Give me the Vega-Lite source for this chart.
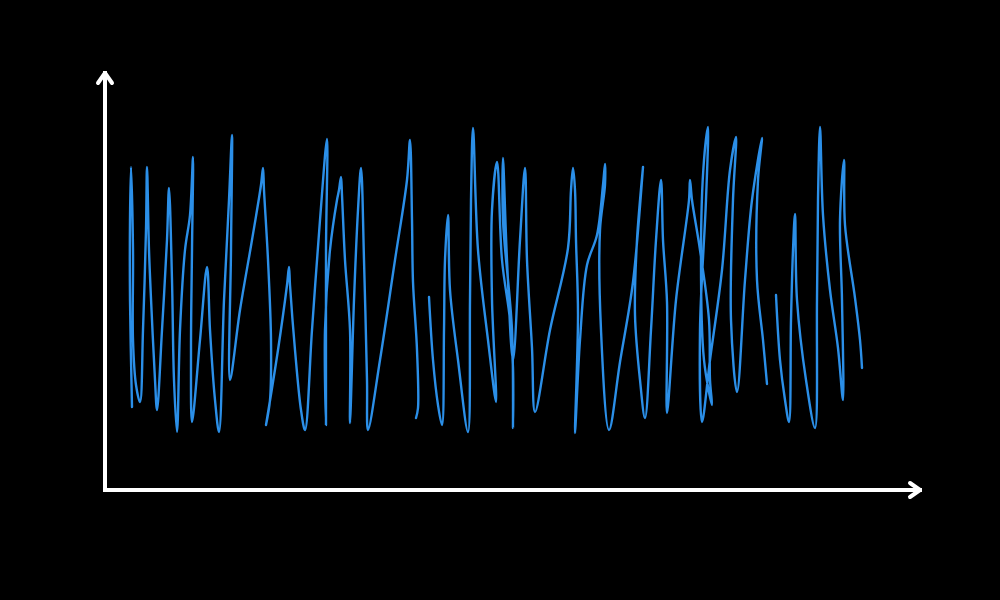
{
  "$schema": "https://vega.github.io/schema/vega-lite/v6.json",
  "width": 815,
  "height": 417,
  "autosize": {"type": "none"},
  "padding": {"left": 105, "top": 73, "right": 80, "bottom": 110},
  "background": "#000000",
  "config": {"view": {"stroke": null}},
  "datasets": {
    "scribble": [
      {"s":1,"i":1,"x":27,"y":83},{"s":1,"i":2,"x":25,"y":190},{"s":1,"i":3,"x":25,"y":270},{"s":1,"i":4,"x":26,"y":323},
      {"s":1,"i":5,"x":28,"y":240},{"s":1,"i":6,"x":28,"y":150},{"s":1,"i":7,"x":31,"y":105},{"s":1,"i":8,"x":35,"y":88},
      {"s":1,"i":9,"x":38,"y":160},{"s":1,"i":10,"x":41,"y":260},{"s":1,"i":11,"x":42,"y":323},{"s":1,"i":12,"x":44,"y":240},
      {"s":1,"i":13,"x":47,"y":170},{"s":1,"i":14,"x":50,"y":110},{"s":1,"i":15,"x":52,"y":80},{"s":1,"i":16,"x":57,"y":160},
      {"s":1,"i":17,"x":62,"y":250},{"s":1,"i":18,"x":64,"y":302},{"s":1,"i":19,"x":67,"y":210},{"s":1,"i":20,"x":69,"y":110},
      {"s":1,"i":21,"x":72,"y":58},{"s":1,"i":22,"x":75,"y":160},{"s":1,"i":23,"x":80,"y":240},{"s":1,"i":24,"x":85,"y":275},
      {"s":1,"i":25,"x":88,"y":333},{"s":1,"i":26,"x":87,"y":240},{"s":1,"i":27,"x":86,"y":140},{"s":1,"i":28,"x":87,"y":68},
      {"s":1,"i":29,"x":95,"y":150},{"s":1,"i":30,"x":102,"y":223},{"s":1,"i":31,"x":105,"y":160},{"s":1,"i":32,"x":110,"y":90},
      {"s":1,"i":33,"x":114,"y":58},{"s":1,"i":34,"x":119,"y":190},{"s":1,"i":35,"x":124,"y":290},{"s":1,"i":36,"x":127,"y":355},
      {"s":1,"i":37,"x":126,"y":240},{"s":1,"i":38,"x":125,"y":110},{"s":1,"i":39,"x":135,"y":180},{"s":1,"i":40,"x":147,"y":250},
      {"s":1,"i":40.5,"x":156,"y":305},
      {"s":1,"i":41,"x":158,"y":322},{"s":1,"i":41.5,"x":159,"y":300},{"s":1,"i":42,"x":163,"y":230},{"s":1,"i":43,"x":166,"y":150},{"s":1,"i":44,"x":165,"y":90},
      {"s":1,"i":45,"x":161,"y":65},{"s":1,"i":46,"x":173,"y":140},{"s":1,"i":46.5,"x":182,"y":205},{"s":1,"i":47,"x":184,"y":223},{"s":1,"i":47.5,"x":185,"y":205},{"s":1,"i":48,"x":190,"y":140},
      {"s":1,"i":49,"x":196,"y":80},{"s":1,"i":50,"x":200,"y":60},{"s":1,"i":51,"x":207,"y":160},{"s":1,"i":52,"x":215,"y":270},
      {"s":1,"i":53,"x":222,"y":351},{"s":1,"i":54,"x":221,"y":240},{"s":1,"i":55,"x":221,"y":65},{"s":1,"i":56,"x":220,"y":160},
      {"s":1,"i":57,"x":225,"y":240},{"s":1,"i":58,"x":232,"y":290},{"s":1,"i":58.5,"x":234,"y":300},{"s":1,"i":59,"x":236,"y":313},{"s":1,"i":59.5,"x":237,"y":295},{"s":1,"i":60,"x":240,"y":230},
      {"s":1,"i":61,"x":245,"y":160},{"s":1,"i":62,"x":245,"y":67},{"s":1,"i":63,"x":249,"y":190},{"s":1,"i":64,"x":253,"y":280},
      {"s":1,"i":65,"x":256,"y":322},{"s":1,"i":66,"x":259,"y":230},{"s":1,"i":67,"x":262,"y":110},{"s":1,"i":68,"x":263,"y":60},
      {"s":1,"i":69,"x":275,"y":130},{"s":1,"i":70,"x":290,"y":230},{"s":1,"i":71,"x":302,"y":310},{"s":1,"i":72,"x":305,"y":350},
      {"s":1,"i":73,"x":307,"y":270},{"s":1,"i":74,"x":308,"y":208},{"s":1,"i":75,"x":312,"y":140},{"s":1,"i":76,"x":313,"y":82},
      {"s":1,"i":77,"x":311,"y":72},
      {"s":2,"i":78,"x":324,"y":193},{"s":2,"i":79,"x":328,"y":130},{"s":2,"i":80,"x":333,"y":85},{"s":2,"i":81,"x":337,"y":65},
      {"s":2,"i":82,"x":339,"y":160},{"s":2,"i":83,"x":340,"y":230},{"s":2,"i":84,"x":343,"y":275},{"s":2,"i":85,"x":345,"y":200},
      {"s":2,"i":86,"x":353,"y":130},{"s":2,"i":87,"x":363,"y":58},{"s":2,"i":88,"x":365,"y":190},{"s":2,"i":89,"x":366,"y":290},
      {"s":2,"i":90,"x":368,"y":362},{"s":2,"i":91,"x":373,"y":240},{"s":2,"i":92,"x":383,"y":150},{"s":2,"i":93,"x":391,"y":88},
      {"s":2,"i":94,"x":387,"y":190},{"s":2,"i":95,"x":387,"y":280},{"s":2,"i":96,"x":392,"y":328},{"s":2,"i":97,"x":397,"y":230},
      {"s":2,"i":98,"x":405,"y":170},{"s":2,"i":99,"x":408,"y":122},{"s":2,"i":100,"x":408,"y":62},{"s":2,"i":101,"x":407,"y":160},
      {"s":2,"i":102,"x":398,"y":270},{"s":2,"i":103,"x":398,"y":332},{"s":2,"i":104,"x":402,"y":230},{"s":2,"i":105,"x":408,"y":130},
      {"s":2,"i":106,"x":415,"y":250},{"s":2,"i":107,"x":420,"y":322},{"s":2,"i":108,"x":422,"y":230},{"s":2,"i":109,"x":427,"y":142},
      {"s":2,"i":110,"x":430,"y":78},{"s":2,"i":111,"x":445,"y":160},{"s":2,"i":112,"x":463,"y":242},{"s":2,"i":112.5,"x":466,"y":300},{"s":2,"i":113,"x":468,"y":322},
      {"s":2,"i":113.5,"x":470,"y":300},{"s":2,"i":114,"x":471,"y":250},{"s":2,"i":115,"x":473,"y":175},{"s":2,"i":116,"x":470,"y":57},{"s":2,"i":117,"x":475,"y":150},
      {"s":2,"i":118,"x":482,"y":225},{"s":2,"i":119,"x":492,"y":255},{"s":2,"i":119.5,"x":498,"y":305},{"s":2,"i":120,"x":500,"y":326},{"s":2,"i":120.5,"x":500,"y":305},{"s":2,"i":121,"x":495,"y":260},
      {"s":2,"i":122,"x":496,"y":160},{"s":2,"i":123,"x":504,"y":60},{"s":2,"i":124,"x":515,"y":128},{"s":2,"i":125,"x":528,"y":208},
      {"s":2,"i":126,"x":538,"y":323},{"s":2,"i":127,"x":532,"y":250},{"s":2,"i":128,"x":530,"y":175},{"s":2,"i":129,"x":535,"y":110},
      {"s":2,"i":130,"x":540,"y":72},{"s":2,"i":131,"x":546,"y":160},{"s":2,"i":132,"x":551,"y":250},{"s":2,"i":133,"x":556,"y":310},
      {"s":2,"i":134,"x":558,"y":250},{"s":2,"i":135,"x":562,"y":188},{"s":2,"i":136,"x":562,"y":77},{"s":2,"i":137,"x":571,"y":190},
      {"s":2,"i":137.5,"x":584,"y":290},{"s":2,"i":138,"x":585,"y":310},{"s":2,"i":138.5,"x":587,"y":290},{"s":2,"i":139,"x":595,"y":240},{"s":2,"i":140,"x":604,"y":170},{"s":2,"i":141,"x":605,"y":110},
      {"s":2,"i":142,"x":607,"y":85},{"s":2,"i":143,"x":599,"y":130},{"s":2,"i":144,"x":596,"y":240},{"s":2,"i":145,"x":599,"y":330},
      {"s":2,"i":146,"x":603,"y":363},{"s":2,"i":147,"x":601,"y":290},{"s":2,"i":148,"x":595,"y":160},{"s":2,"i":149,"x":597,"y":68},
      {"s":2,"i":150,"x":605,"y":130},{"s":2,"i":151,"x":617,"y":220},{"s":2,"i":152,"x":625,"y":320},{"s":2,"i":153,"x":631,"y":353},
      {"s":2,"i":154,"x":628,"y":290},{"s":2,"i":155,"x":626,"y":170},{"s":2,"i":156,"x":632,"y":98},{"s":2,"i":157,"x":640,"y":210},
      {"s":2,"i":158,"x":647,"y":290},{"s":2,"i":159,"x":657,"y":352},{"s":2,"i":160,"x":653,"y":310},{"s":2,"i":161,"x":652,"y":210},
      {"s":2,"i":162,"x":658,"y":150},{"s":2,"i":163,"x":662,"y":106},
      {"s":3,"i":164,"x":671,"y":195},{"s":3,"i":165,"x":675,"y":130},{"s":3,"i":166,"x":680,"y":90},{"s":3,"i":167,"x":684,"y":68},
      {"s":3,"i":168,"x":686,"y":170},{"s":3,"i":169,"x":688,"y":240},{"s":3,"i":170,"x":690,"y":276},{"s":3,"i":171,"x":692,"y":190},
      {"s":3,"i":172,"x":701,"y":110},{"s":3,"i":173,"x":710,"y":62},{"s":3,"i":174,"x":712,"y":190},{"s":3,"i":175,"x":713,"y":290},
      {"s":3,"i":176,"x":715,"y":363},{"s":3,"i":177,"x":718,"y":275},{"s":3,"i":178,"x":725,"y":200},{"s":3,"i":179,"x":733,"y":142},
      {"s":3,"i":180,"x":738,"y":90},{"s":3,"i":181,"x":737,"y":190},{"s":3,"i":182,"x":735,"y":270},{"s":3,"i":183,"x":739,"y":330},
      {"s":3,"i":184,"x":740,"y":265},{"s":3,"i":185,"x":750,"y":192},{"s":3,"i":186,"x":755,"y":150},{"s":3,"i":187,"x":757,"y":122}
    ],
    "axes": [
      {"x": 0, "x2": 815, "y": 0, "y2": 0},
      {"x": 0, "x2": 0, "y": 0, "y2": 417}
    ]
  },
  "layer": [
    {
      "data": {"name": "scribble"},
      "mark": {"type": "line", "interpolate": "catmull-rom", "color": "#2b8fe8", "strokeWidth": 2.4, "strokeCap": "round", "strokeJoin": "round"},
      "encoding": {
        "x": {"field": "x", "type": "quantitative", "scale": {"domain": [0, 815], "nice": false, "zero": false}, "axis": null},
        "y": {"field": "y", "type": "quantitative", "scale": {"domain": [0, 417], "nice": false, "zero": false}, "axis": null},
        "detail": {"field": "s", "type": "nominal"},
        "order": {"field": "i", "type": "quantitative"}
      }
    },
    {
      "data": {"name": "axes"},
      "mark": {"type": "rule", "color": "#ffffff", "strokeWidth": 4, "strokeCap": "square"},
      "encoding": {
        "x": {"field": "x", "type": "quantitative", "axis": null},
        "x2": {"field": "x2"},
        "y": {"field": "y", "type": "quantitative", "axis": null},
        "y2": {"field": "y2"}
      }
    },
    {
      "data": {"values": [{"x": 0, "y": 417}]},
      "mark": {"type": "point", "shape": "M-0.7,1L0,0L0.7,1", "size": 400, "filled": false, "stroke": "#ffffff", "strokeWidth": 4, "strokeCap": "round", "strokeJoin": "round", "opacity": 1},
      "encoding": {
        "x": {"field": "x", "type": "quantitative", "axis": null},
        "y": {"field": "y", "type": "quantitative", "axis": null}
      }
    },
    {
      "data": {"values": [{"x": 815, "y": 0}]},
      "mark": {"type": "point", "shape": "M-1,-0.7L0,0L-1,0.7", "size": 400, "filled": false, "stroke": "#ffffff", "strokeWidth": 4, "strokeCap": "round", "strokeJoin": "round", "opacity": 1},
      "encoding": {
        "x": {"field": "x", "type": "quantitative", "axis": null},
        "y": {"field": "y", "type": "quantitative", "axis": null}
      }
    }
  ]
}
